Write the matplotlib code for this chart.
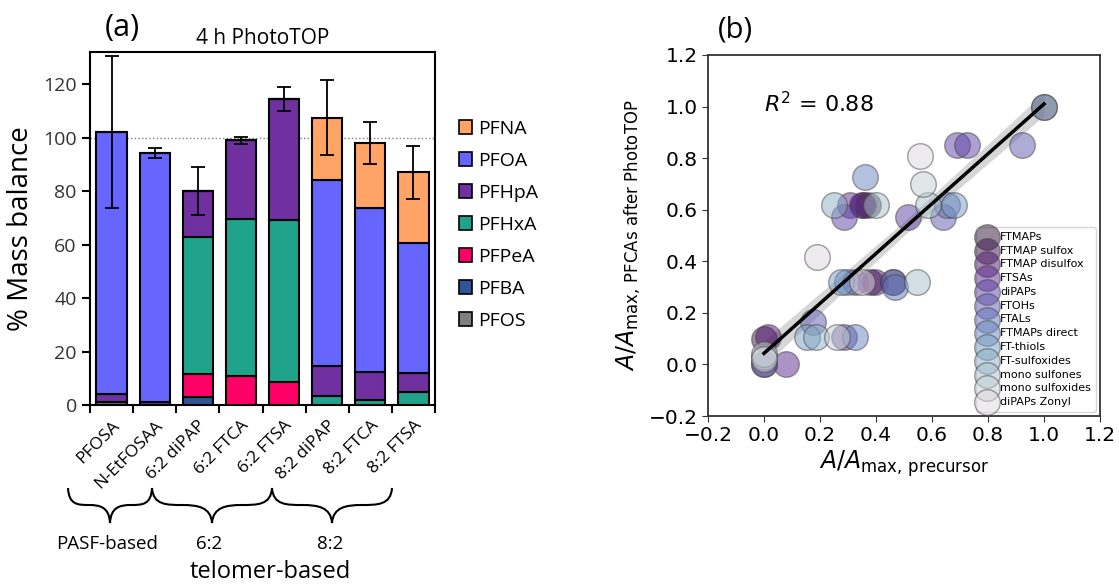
import numpy as np
import matplotlib
matplotlib.use("Agg")
import matplotlib.pyplot as plt
from matplotlib.patches import Patch, PathPatch
from matplotlib.path import Path
from matplotlib import cm

# ---- panel (a): mass balance after 4 h PhotoTOP ----
precursors = ["PFOSA", "N-EtFOSAA", "6:2 diPAP", "6:2 FTCA", "6:2 FTSA",
              "8:2 diPAP", "8:2 FTCA", "8:2 FTSA"]

# stacked from bottom to top
pfos  = [1.2, 0.0, 0.0, 0.0, 0.0, 0.0, 0.0, 0.0]
pfba  = [0.0, 0.0, 3.0, 0.0, 0.0, 0.0, 0.0, 0.0]
pfpea = [0.0, 0.0, 8.5, 11.0, 8.5, 0.0, 0.0, 0.0]
pfhxa = [0.0, 0.0, 51.5, 58.5, 60.5, 3.5, 2.0, 5.0]
pfhpa = [2.8, 1.2, 17.0, 29.5, 45.5, 11.0, 10.5, 7.0]
pfoa  = [98.0, 93.0, 0.0, 0.0, 0.0, 69.5, 61.0, 48.5]
pfna  = [0.0, 0.0, 0.0, 0.0, 0.0, 23.5, 24.5, 26.5]
err   = [28.5, 2.0, 9.0, 1.3, 4.5, 14.0, 8.0, 10.0]

stack_names = ["PFOS", "PFBA", "PFPeA", "PFHxA", "PFHpA", "PFOA", "PFNA"]
stack_vals = [pfos, pfba, pfpea, pfhxa, pfhpa, pfoa, pfna]
stack_cols = ["#7f7f7f", "#2f5597", "#ff0066", "#1fa38a", "#7030a0",
              "#6666ff", "#ffa366"]

# ---- panel (b): normalised PFCA yield vs precursor abundance ----
classes = ["FTMAPs", "FTMAP sulfox", "FTMAP disulfox", "FTSAs", "diPAPs",
           "FTOHs", "FTALs", "FTMAPs direct", "FT-thiols", "FT-sulfoxides",
           "mono sulfones", "mono sulfoxides", "diPAPs Zonyl"]
pts_x = [
    [0.0, 0.37, 0.46, 1.0],
    [0.0, 0.354, 0.378],
    [0.015, 0.35, 0.397],
    [0.08, 0.307, 0.325, 0.286],
    [0.286, 0.69, 0.725, 0.514],
    [0.175, 0.64, 0.92, 0.0],
    [0.46, 0.468, 0.653],
    [0.36, 0.296, 0.325],
    [0.275, 0.68, 0.153],
    [0.25, 0.186, 0.0, 1.0],
    [0.40, 0.546, 0.586],
    [0.568, 0.26, 0.0],
    [0.19, 0.557, 0.35, 0.0],
]
pts_y = [
    [0.0, 0.617, 0.32, 1.0],
    [0.10, 0.617, 0.32],
    [0.105, 0.617, 0.32],
    [0.0, 0.617, 0.32, 0.105],
    [0.57, 0.85, 0.85, 0.57],
    [0.163, 0.57, 0.85, 0.0],
    [0.32, 0.30, 0.617],
    [0.726, 0.32, 0.105],
    [0.32, 0.617, 0.105],
    [0.617, 0.105, 0.03, 1.0],
    [0.617, 0.32, 0.617],
    [0.70, 0.105, 0.04],
    [0.415, 0.81, 0.32, 0.02],
]
fit_x = [0.0, 0.5, 1.0]
fit_y = [0.043, 0.527, 1.01]
band_lo = [-0.005, 0.50, 0.965]
band_hi = [0.091, 0.554, 1.055]
r2 = 0.88

fig = plt.figure(figsize=(11.19, 5.85), dpi=100)
W, H = 1119, 585


def fx(px):
    return px / W


def fy(py):
    return 1 - py / H


sans = ["Open Sans", "DejaVu Sans"]

# ---------------- (a) ----------------
ax1 = fig.add_axes([fx(90), fy(405), fx(345), (405 - 52) / H])
xpos = np.arange(len(precursors))
bottom = np.zeros(len(precursors))
for name, vals, col in zip(stack_names, stack_vals, stack_cols):
    vals = np.array(vals)
    ax1.bar(xpos, vals, 0.7, bottom=bottom, color=col, edgecolor="black",
            linewidth=1.5, zorder=3)
    bottom = bottom + vals
ax1.errorbar(xpos, bottom, yerr=err, fmt="none", ecolor="black",
             elinewidth=1.3, capsize=5, capthick=1.3, zorder=4)
ax1.axhline(100, color="gray", linestyle=":", linewidth=1, zorder=2)

ax1.set_xlim(-0.5, len(precursors) - 0.5)
ax1.set_ylim(0, 132)
ax1.set_yticks(np.arange(0, 121, 20))
ax1.set_yticklabels([str(v) for v in range(0, 121, 20)], family=sans,
                    fontsize=14, color="#333333")
ax1.set_xticks(xpos)
ax1.set_xticklabels(precursors, rotation=45, ha="right",
                    rotation_mode="anchor", family=sans, fontsize=12.5)
ax1.set_xticks(np.arange(-0.5, len(precursors)), minor=True)
ax1.tick_params(axis="x", which="major", length=0, pad=9)
ax1.tick_params(axis="x", which="minor", length=6, width=1.5, direction="out")
ax1.tick_params(axis="y", length=6, width=1.5, direction="out")
for sp in ax1.spines.values():
    sp.set_linewidth(1.5)
ax1.set_ylabel("% Mass balance", family=sans, fontsize=20, labelpad=6)
ax1.set_title("4 h PhotoTOP", family=sans, fontsize=15, pad=6)
fig.text(fx(122), fy(28), "(a)", family=sans, fontsize=22,
         ha="center", va="center")

handles = [Patch(facecolor=c, edgecolor="black", linewidth=1.2, label=n)
           for n, c in zip(stack_names[::-1], stack_cols[::-1])]
ax1.legend(handles=handles, loc="center left", bbox_to_anchor=(1.04, 0.51),
           frameon=False, prop={"family": sans, "size": 14},
           handlelength=0.7, handleheight=0.7, handletextpad=0.3,
           labelspacing=0.72, borderpad=0)

# curly braces grouping the precursors
def brace(x0, x1, yt=488, ym=505, yb=523):
    w = x1 - x0
    xc = 0.5 * (x0 + x1)
    verts = [(x0, yt), (x0 + 0.01 * w, ym), (x0 + 0.12 * w, ym), (x0 + 0.25 * w, ym),
             (xc - 0.12 * w, ym), (xc - 0.01 * w, ym + 2), (xc, yb),
             (xc + 0.01 * w, ym + 2), (xc + 0.12 * w, ym), (x1 - 0.25 * w, ym),
             (x1 - 0.12 * w, ym), (x1 - 0.01 * w, ym), (x1, yt)]
    verts = [(fx(a), fy(b)) for a, b in verts]
    codes = [Path.MOVETO] + [Path.CURVE4] * 12
    fig.add_artist(PathPatch(Path(verts, codes), transform=fig.transFigure,
                             facecolor="none", edgecolor="black", linewidth=1.5))


brace(68, 152)
brace(152, 272)
brace(272, 392)
fig.text(fx(107), fy(544), "PASF-based", family=sans, fontsize=13.5,
         ha="center", va="center")
fig.text(fx(209), fy(544), "6:2", family=sans, fontsize=13.5,
         ha="center", va="center")
fig.text(fx(330), fy(544), "8:2", family=sans, fontsize=13.5,
         ha="center", va="center")
fig.text(fx(270), fy(572), "telomer-based", family=sans, fontsize=17,
         ha="center", va="center")

# ---------------- (b) ----------------
ax2 = fig.add_axes([fx(708), fy(416), fx(392), (416 - 55) / H])
colors = cm.twilight(np.linspace(0.5, 0.02, len(classes)))
ax2.fill_between(fit_x, band_lo, band_hi, color="#bbbbbb", alpha=0.6,
                 linewidth=0, zorder=1)
for name, xs, ys, c in zip(classes, pts_x, pts_y, colors):
    ax2.scatter(xs, ys, s=340, color=c, alpha=0.5, edgecolor="#444444",
                linewidth=1, label=name, zorder=2)
ax2.plot(fit_x, fit_y, color="black", linewidth=2.5, zorder=3)
ax2.text(0.0, 1.01, "$R^2$ = %.2f" % r2, fontsize=16, va="center")

ax2.set_xlim(-0.2, 1.2)
ax2.set_ylim(-0.2, 1.2)
ticks = np.round(np.arange(-0.2, 1.21, 0.2), 1)
ax2.set_xticks(ticks)
ax2.set_yticks(ticks)
ax2.tick_params(labelsize=14.5, length=4, color="#333333")
for sp in ax2.spines.values():
    sp.set_linewidth(1.3)
    sp.set_color("#333333")
ax2.set_xlabel(r"$A/A_{\mathrm{max,\,precursor}}$", fontsize=17, labelpad=2)
ax2.set_ylabel(r"$A/A_{\mathrm{max,\,PFCAs\ after\ PhotoTOP}}$", fontsize=17)
fig.text(fx(735), fy(30), "(b)", fontsize=21, family=sans,
         ha="center", va="center")
ax2.legend(loc="lower right", fontsize=8, labelspacing=0.34,
           handlelength=1.3, handletextpad=0.5, borderpad=0.4,
           borderaxespad=0.4)

fig.savefig("out.png", dpi=100)
